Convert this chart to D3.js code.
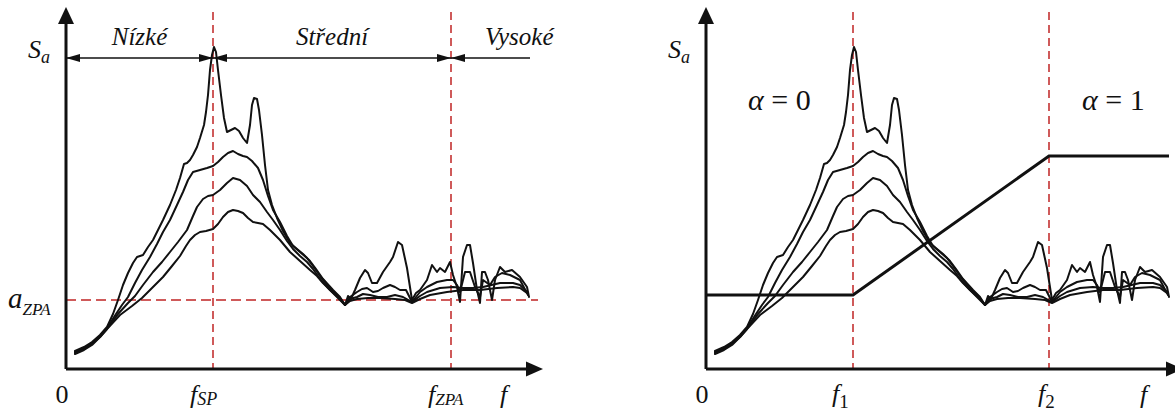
<!DOCTYPE html>
<html>
<head>
<meta charset="utf-8">
<script src="https://cdn.jsdelivr.net/npm/d3@7"></script>
<style>
  html, body { margin: 0; padding: 0; background: #fff; }
  svg { display: block; }
  text { font-family: "Liberation Serif", "Times New Roman", serif; fill: #111; }
</style>
</head>
<body>
<svg id="chart" width="1175" height="414" font-family="Liberation Serif, Times New Roman, serif"></svg>
<script>
// Four floor response spectra: [frequency, spectral acceleration]
const spectrum1 = [
  [0.9,1.8],[1.8,2.2],[2.6,2.7],[3.4,3.4],[4.1,4.2],[4.7,5.5],[5.2,6.9],[5.7,8.4],[6.2,9.6],[6.7,10.6],
  [7.1,11.2],[7.7,11.4],[8.2,12.2],[8.7,12.9],[9.2,13.9],[9.7,14.9],[10.4,16.4],[11.0,17.9],[11.4,19.1],
  [11.8,20.5],[12.1,20.6],[12.4,20.9],[12.7,21.4],[13.1,22.2],[13.4,23.1],[13.8,24.4],[14.0,25.7],
  [14.2,27.4],[14.4,29.9],[14.6,31.4],[14.8,32.2],[15.0,31.7],[15.2,29.9],[15.5,27.4],[15.8,25.1],
  [16.1,23.7],[16.5,23.9],[16.9,24.1],[17.3,23.8],[17.7,23.1],[18.1,22.6],[18.4,24.4],[18.6,26.4],
  [18.8,27.1],[19.1,27.0],[19.3,25.9],[19.6,23.4],[19.9,20.4],[20.2,17.9],[20.6,16.4],[21.1,15.1],
  [21.7,13.8],[22.4,12.6],[23.1,12.0],[23.7,11.5],[24.4,10.8],[25.0,10.0],[25.7,9.0],[26.7,7.9],
  [27.4,7.2],[27.9,6.4],[28.2,7.3],[28.5,7.0],[28.9,7.9],[29.4,9.1],[29.9,9.9],[30.2,9.6],[30.6,8.6],
  [31.1,8.6],[31.7,9.7],[32.4,10.7],[32.7,11.2],[33.2,12.7],[33.6,12.4],[34.1,10.1],[34.6,6.9],
  [35.0,7.6],[35.4,7.9],[36.1,8.9],[36.6,10.4],[37.1,9.7],[37.4,10.1],[37.9,9.7],[38.4,10.7],
  [38.7,9.4],[39.1,8.2],[39.4,6.7],[39.7,11.2],[40.1,12.4],[40.4,12.4],[40.7,10.6],[41.1,7.9],
  [41.4,6.6],[41.6,9.7],[41.9,9.7],[42.2,8.9],[42.6,6.9],[42.9,8.9],[43.4,10.2],[43.9,9.7],
  [44.6,9.9],[45.4,9.2],[46.1,8.2],[46.3,7.2]
];
const spectrum2 = [
  [0.9,1.7],[1.8,2.1],[2.6,2.6],[3.4,3.3],[4.1,4.1],[5.0,5.5],[5.6,6.4],[6.2,7.2],[6.9,8.6],[7.6,9.9],
  [8.4,11.2],[9.1,12.5],[9.7,13.7],[10.4,14.9],[11.1,16.4],[11.7,17.7],[12.2,18.9],[12.7,19.7],
  [13.4,19.9],[14.1,20.1],[14.7,20.3],[15.2,20.7],[15.7,21.2],[16.2,21.6],[16.7,21.8],[17.2,21.5],
  [17.7,21.3],[18.1,21.2],[18.6,20.8],[19.2,20.1],[19.7,18.9],[20.2,17.3],[20.7,15.9],[21.4,14.7],
  [22.1,13.3],[22.7,12.3],[23.4,11.7],[24.1,11.1],[24.7,10.3],[25.4,9.3],[26.4,8.1],[27.4,7.1],
  [27.9,6.4],[28.4,7.2],[29.1,7.7],[29.6,8.0],[30.1,8.1],[30.7,7.7],[31.2,7.8],[31.7,8.1],[32.4,8.4],
  [32.9,8.2],[33.4,7.9],[34.0,7.9],[34.6,6.7],[35.4,7.7],[36.1,8.2],[37.1,8.7],[38.1,8.9],[38.7,8.9],
  [39.1,8.4],[39.4,7.7],[39.9,9.7],[40.4,9.7],[40.9,8.2],[41.4,7.2],[41.7,8.9],[42.4,8.4],[42.9,9.2],
  [43.6,9.6],[44.4,9.4],[45.4,8.9],[46.2,7.4]
];
const spectrum3 = [
  [0.9,1.6],[1.8,2.0],[2.6,2.5],[3.4,3.2],[4.1,4.0],[5.2,5.5],[6.2,6.6],[6.9,7.3],[7.7,8.4],[8.7,9.7],
  [9.6,10.7],[10.4,11.7],[11.2,12.7],[12.1,13.9],[12.7,15.3],[13.1,16.2],[13.7,17.0],[14.2,17.3],
  [14.7,17.4],[15.4,17.9],[16.1,18.6],[16.7,19.1],[17.4,18.9],[18.1,18.3],[18.7,17.4],[19.4,16.7],
  [20.1,15.7],[20.7,14.9],[21.4,13.9],[22.1,12.8],[22.7,12.0],[23.4,11.3],[24.1,10.7],[24.7,10.0],
  [25.4,9.0],[26.4,7.9],[27.4,7.0],[27.9,6.4],[28.4,7.0],[29.1,7.2],[29.7,7.5],[30.4,7.4],[31.2,7.2],
  [32.1,7.2],[32.9,7.4],[33.7,7.2],[34.6,6.7],[35.4,7.3],[36.1,7.7],[37.4,8.1],[38.7,8.2],[39.7,8.1],
  [40.7,8.1],[41.7,8.2],[43.4,8.6],[44.7,8.6],[45.4,8.4],[46.1,7.7]
];
const spectrum4 = [
  [0.9,1.5],[1.8,1.9],[2.6,2.4],[3.4,3.2],[4.1,4.0],[5.4,5.4],[6.6,6.3],[7.6,7.1],[8.6,8.1],[9.7,9.2],
  [10.6,10.3],[11.4,11.3],[12.0,12.3],[12.4,12.9],[12.9,13.4],[13.4,13.7],[14.0,13.8],[14.7,14.0],
  [15.2,14.5],[15.7,15.2],[16.2,15.7],[16.7,15.9],[17.2,15.8],[17.7,15.6],[18.2,15.1],[18.7,14.7],
  [19.2,14.6],[19.7,14.5],[20.4,13.9],[21.4,12.9],[22.4,11.7],[23.4,10.8],[24.4,9.9],[25.1,9.3],
  [25.7,8.6],[26.7,7.6],[27.4,6.9],[27.9,6.4],[28.4,6.8],[29.1,7.0],[30.2,7.1],[31.4,7.1],[32.9,7.0],
  [33.9,6.9],[34.6,6.6],[35.4,7.0],[36.4,7.4],[38.1,7.7],[39.7,7.9],[41.4,7.9],[43.1,8.1],[44.7,8.2],
  [45.4,8.1],[46.1,7.6]
];
const spectra = [spectrum1, spectrum2, spectrum3, spectrum4];

// Characteristic frequencies and levels
const fSP = 14.7, fZPA = 38.5;      // spectral peak, zero period acceleration
const f1 = 14.7, f2 = 34.3;         // limits of the alpha transition
const aZPA = 6.9;
const saRef = 31.1;                  // level of the S_a label and band arrows
const fMax = 47.7, saMax = 36.2;     // axis arrow tips
const guideTop = 35.7;               // upper end of the dashed guides

// Frequency bands of the left panel
const bandNames = ["Nízké", "Střední", "Vysoké"];
const bandEdges = [0, fSP, fZPA, 46.4];

// Weighting factor alpha over frequency
const alphaFreq = [0, f1, f2, 46.3];
const alphaValue = [0, 0, 1, 1];
const alphaLevels = [7.4, 21.3];     // S_a levels drawn for alpha = 0 and alpha = 1
const alphaLabels = ["α = 0", "α = 1"];

const svg = d3.select("#chart");
const x = d3.scaleLinear().domain([0, fMax]).range([0, 477]);
const y = d3.scaleLinear().domain([0, saMax]).range([369, 7]);
const alphaY = d3.scaleLinear().domain([0, 1]).range(alphaLevels.map(y));

const red = "#cf5a5a";
const line = d3.line().x(d => x(d[0])).y(d => y(d[1]));

// Label with an optional subscript
function label(g, px, py, main, sub, o = {}) {
  const t = g.append("text").attr("x", px).attr("y", py)
    .attr("font-size", o.size || 26)
    .attr("text-anchor", o.anchor || "start");
  t.append("tspan").attr("font-style", o.mainItalic === false ? "normal" : "italic").text(main);
  if (sub) {
    t.append("tspan").attr("font-size", o.subSize || 17)
      .attr("font-style", o.subItalic === false ? "normal" : "italic")
      .attr("dy", o.subDy || 5).text(sub);
  }
  return t;
}

function vGuide(g, f) {
  g.append("line").attr("x1", x(f)).attr("x2", x(f))
    .attr("y1", y(guideTop)).attr("y2", y(0))
    .attr("stroke", red).attr("stroke-width", 2).attr("stroke-dasharray", "8,5");
}

function drawSpectra(g) {
  g.selectAll("path.spec").data(spectra).join("path")
    .attr("class", "spec")
    .attr("d", line)
    .attr("fill", "none").attr("stroke", "#111")
    .attr("stroke-width", 2).attr("stroke-linejoin", "round").attr("stroke-linecap", "round");
}

function drawAxes(g) {
  const top = y(saMax), right = x(fMax);
  g.append("path")
    .attr("d", `M0,${y(0)}V${top + 14}M0,${y(0)}H${right - 14}`)
    .attr("fill", "none").attr("stroke", "#111").attr("stroke-width", 3);
  g.append("path").attr("d", `M-8,${top + 17}L0,${top}L8,${top + 17}Z`).attr("fill", "#111");
  g.append("path").attr("d", `M${right - 17},${y(0) - 7.5}L${right},${y(0)}L${right - 17},${y(0) + 7.5}Z`).attr("fill", "#111");
  label(g, -4, 403, "0", null, { anchor: "middle", mainItalic: false });
  label(g, x(43.4), 403, "f");
  label(g, -38, y(saRef), "S", "a", { size: 26, subSize: 18 });
}

// ---------- left panel ----------
const left = svg.append("g").attr("transform", "translate(66,0)");
vGuide(left, fSP);
vGuide(left, fZPA);
left.append("line").attr("x1", x(0)).attr("x2", x(47.2))
  .attr("y1", y(aZPA)).attr("y2", y(aZPA))
  .attr("stroke", red).attr("stroke-width", 2).attr("stroke-dasharray", "10,5");
drawSpectra(left);
drawAxes(left);

// band dimension arrows
const yb = y(saRef);
left.append("line").attr("x1", x(bandEdges[0])).attr("x2", x(bandEdges[3]))
  .attr("y1", yb).attr("y2", yb).attr("stroke", "#111").attr("stroke-width", 1.5);
const heads = [];
bandNames.forEach((n, i) => {
  heads.push({ at: bandEdges[i], dir: -1 });
  if (i < bandNames.length - 1) heads.push({ at: bandEdges[i + 1], dir: 1 });
});
left.selectAll("path.head").data(heads).join("path").attr("class", "head")
  .attr("d", d => { const px = x(d.at); return `M${px},${yb}L${px - d.dir * 14},${yb - 4}L${px - d.dir * 14},${yb + 4}Z`; })
  .attr("fill", "#111");
left.selectAll("text.band").data(bandNames).join("text").attr("class", "band")
  .attr("x", (d, i) => i < 2 ? (x(bandEdges[i]) + x(bandEdges[i + 1])) / 2 : x(bandEdges[i]) + 34)
  .attr("y", 45)
  .attr("text-anchor", (d, i) => i < 2 ? "middle" : "start")
  .attr("font-size", 25).attr("font-style", "italic").text(d => d);

label(left, -58, y(aZPA) + 8, "a", "ZPA", { size: 29, subSize: 17, subDy: 7 });
label(left, x(fSP) - 23, 403, "f", "SP", { subSize: 18, subDy: 2 });
label(left, x(fZPA) - 23, 403, "f", "ZPA", { subSize: 17, subDy: 2 });

// ---------- right panel ----------
const right = svg.append("g").attr("transform", "translate(706,0)");
vGuide(right, f1);
vGuide(right, f2);
drawSpectra(right);
right.append("path")
  .datum(d3.zip(alphaFreq, alphaValue))
  .attr("d", d3.line().x(d => x(d[0])).y(d => alphaY(d[1])))
  .attr("fill", "none").attr("stroke", "#111").attr("stroke-width", 3).attr("stroke-linejoin", "miter");
drawAxes(right);

label(right, x(f1) - 21, 402, "f", "1", { subSize: 19, subItalic: false, subDy: 6 });
label(right, x(f2) - 11, 402, "f", "2", { subSize: 19, subItalic: false, subDy: 6 });

// alpha annotations
[[alphaLabels[0], 4.2], [alphaLabels[1], 37.6]].forEach(([txt, f]) => {
  const t = right.append("text").attr("x", x(f)).attr("y", 110).attr("font-size", 30);
  t.append("tspan").attr("font-style", "italic").text(txt.slice(0, 1));
  t.append("tspan").text(txt.slice(1));
});
</script>
</body>
</html>
